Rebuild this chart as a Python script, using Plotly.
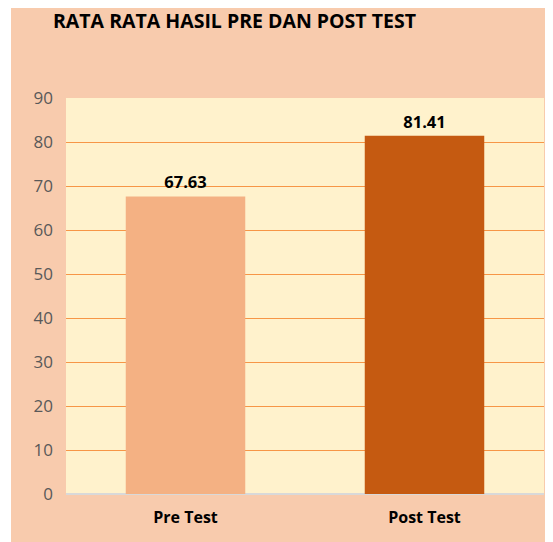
import plotly.graph_objects as go

categories = ["Pre Test", "Post Test"]
values = [67.63, 81.41]
bar_colors = ["#F4B183", "#C55A11"]
y_ticks = [0, 10, 20, 30, 40, 50, 60, 70, 80, 90]

# page body has an 8px margin, so figure starts at (8, 8)
OFF = 8
W, H = 553 - OFF, 542 - OFF
L, R, T, B = 66 - OFF, 9, 98 - OFF, 48
pw, ph = W - L - R, H - T - B

FONT = "Open Sans"

fig = go.Figure(go.Bar(
    x=categories, y=values,
    marker=dict(color=bar_colors, line=dict(width=0)),
    text=[f"{v:.2f}" for v in values],
    textposition="outside",
    textfont=dict(family=FONT, size=16.5, color="#000000", weight="bold"),
    cliponaxis=False,
    width=0.5,
))

fig.update_layout(
    width=W, height=H,
    margin=dict(l=L, r=R, t=T, b=B, pad=0),
    paper_bgcolor="#F8CBAD",
    plot_bgcolor="#FFF2CC",
    showlegend=False,
    title=dict(text="<b>RATA RATA HASIL PRE DAN POST TEST</b>",
               font=dict(family=FONT, size=19.5, color="#000000"),
               x=(53 - OFF) / W, xanchor="left", y=1 - (21 - OFF) / H, yanchor="middle"),
    xaxis=dict(showgrid=False, showline=False, ticks="",
               tickfont=dict(family=FONT, size=16, color="#000000", weight="bold"),
               ticklabelstandoff=12),
    yaxis=dict(range=[0, 90], tickvals=y_ticks, showgrid=True,
               gridcolor="#F79646", gridwidth=1,
               zeroline=True, zerolinecolor="#D9D9D9", zerolinewidth=1.5,
               showline=False, ticks="",
               tickfont=dict(family=FONT, size=17, color="#595959"),
               ticklabelstandoff=12),
    shapes=[
        dict(type="rect", xref="paper", yref="paper",
             x0=-L / pw, x1=(3 - L) / pw, y0=-B / ph, y1=(H - B) / ph,
             fillcolor="#FFFFFF", line=dict(width=0), layer="below"),
    ],
)

fig.write_html("out.html")
